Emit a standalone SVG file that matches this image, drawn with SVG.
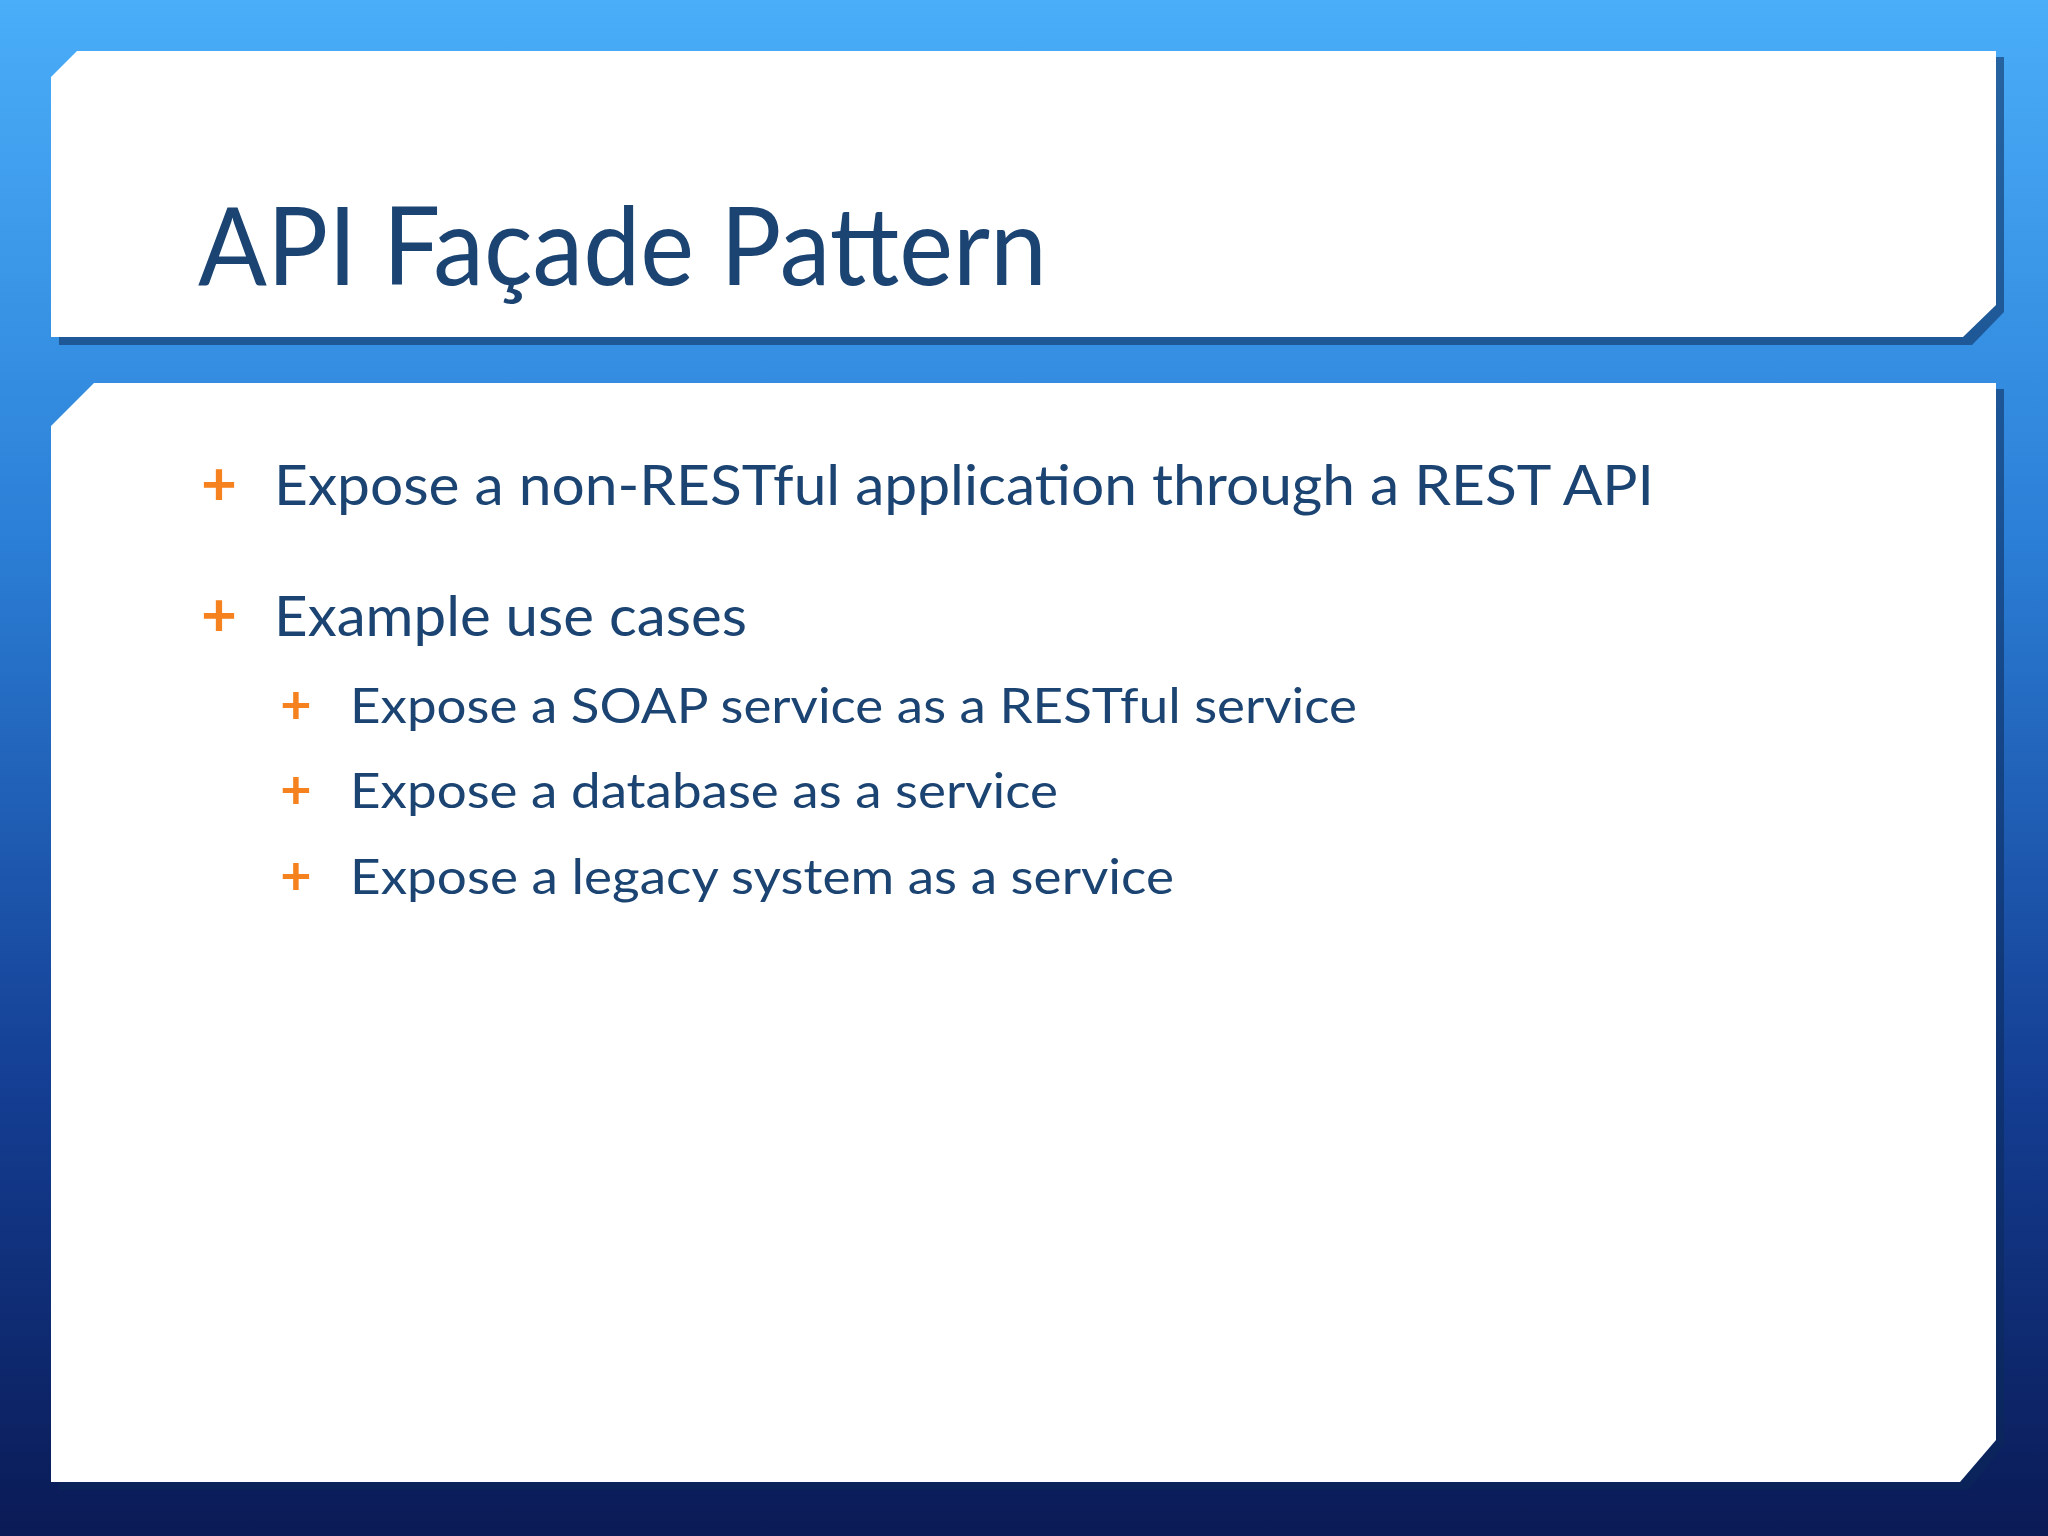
<svg xmlns="http://www.w3.org/2000/svg" width="2048" height="1536" viewBox="0 0 2048 1536">
<defs>
<linearGradient id="bg" x1="0" y1="0" x2="0" y2="1">
<stop offset="0" stop-color="#4aaef9"/>
<stop offset="0.35" stop-color="#2b7fd6"/>
<stop offset="0.7" stop-color="#143f94"/>
<stop offset="1" stop-color="#0a1a55"/>
</linearGradient>
<style>
.panel{fill:#ffffff}
.shadow{fill:#0b2a5a;opacity:0.55}
.t{font-family:Lato,"Open Sans",sans-serif;fill:#1b4472}
.plus{font-family:Lato,"Open Sans",sans-serif;fill:#f5821f;font-weight:bold}
</style>
</defs>
<rect width="2048" height="1536" fill="url(#bg)"/>
<g id="title-panel">
<polygon class="shadow" points="77,57 2004,57 2004,312 1972,345 59,345 59,77"/>
<polygon class="panel" points="77,51 1996,51 1996,305 1963,337 51,337 51,77"/>
<text class="t" x="198" y="285" font-size="108" textLength="849" lengthAdjust="spacingAndGlyphs">API Façade Pattern</text>
</g>
<g id="content-panel">
<polygon class="shadow" points="98,389 2004,389 2004,1445 1968,1490 59,1490 59,431"/>
<polygon class="panel" points="94,383 1996,383 1996,1440 1960,1482 51,1482 51,426"/>
<text class="plus" x="219" y="505" font-size="62" text-anchor="middle">+</text>
<text class="t" x="274" y="505" font-size="56" textLength="1380" lengthAdjust="spacingAndGlyphs">Expose a non-RESTful application through a REST API</text>
<text class="plus" x="219" y="636" font-size="62" text-anchor="middle">+</text>
<text class="t" x="274" y="636" font-size="56" textLength="473" lengthAdjust="spacingAndGlyphs">Example use cases</text>
<text class="plus" x="296" y="724" font-size="54" text-anchor="middle">+</text>
<text class="t" x="350" y="723" font-size="49" textLength="1007" lengthAdjust="spacingAndGlyphs">Expose a SOAP service as a RESTful service</text>
<text class="plus" x="296" y="809" font-size="54" text-anchor="middle">+</text>
<text class="t" x="350" y="808" font-size="49" textLength="708" lengthAdjust="spacingAndGlyphs">Expose a database as a service</text>
<text class="plus" x="296" y="895" font-size="54" text-anchor="middle">+</text>
<text class="t" x="350" y="894" font-size="49" textLength="824" lengthAdjust="spacingAndGlyphs">Expose a legacy system as a service</text>
</g>
</svg>
